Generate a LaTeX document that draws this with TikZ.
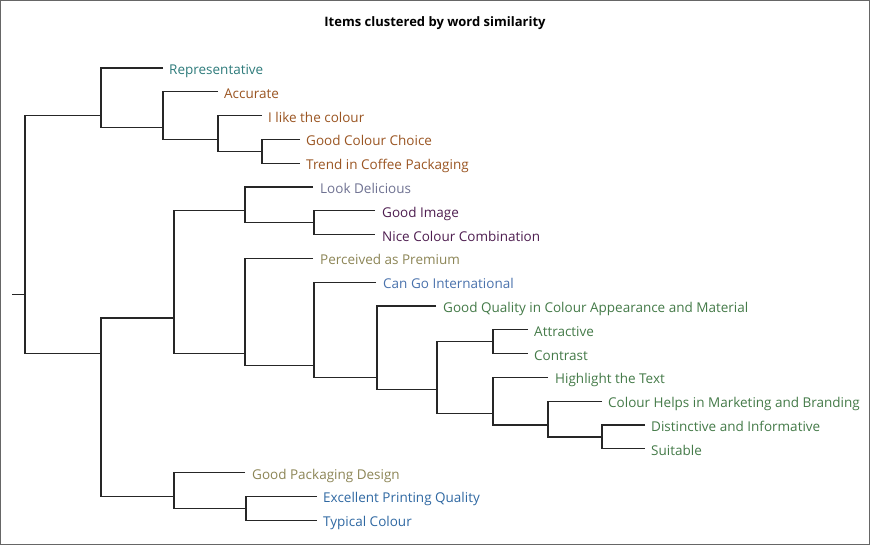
\documentclass[tikz,border=0pt]{standalone}
\usepackage{fontspec}
\setmainfont{Open Sans}
\definecolor{teal1}{HTML}{2E7B7B}
\definecolor{brown1}{HTML}{9A5522}
\definecolor{slate1}{HTML}{6F7292}
\definecolor{plum1}{HTML}{4E1E50}
\definecolor{olive1}{HTML}{8C8556}
\definecolor{blue1}{HTML}{4A72AC}
\definecolor{green1}{HTML}{447A48}
\definecolor{blue2}{HTML}{2F68A2}
\tikzset{
  leaf/.style={anchor=west, inner sep=0pt, text height=16pt, text depth=3pt, font=\fontsize{13.5}{15}\selectfont},
  branch/.style={line width=1.2pt, black!85}
}
\begin{document}
\begin{tikzpicture}[x=1pt,y=-1pt]
    \useasboundingbox (0,0) rectangle (870,545);
    \draw[black!60, line width=1pt] (0.5,0.5) rectangle (869.5,544.5);
    \node[font=\bfseries\fontsize{13}{15}\selectfont] (title) at (435,23) {Items clustered by word similarity};

    % leaves
    \node[leaf, teal1]  (rep)    at (169,68)    {Representative};
    \node[leaf, brown1] (acc)    at (224,91.8)  {Accurate};
    \node[leaf, brown1] (ilike)  at (268,115.6) {I like the colour};
    \node[leaf, brown1] (gcc)    at (306,139.4) {Good Colour Choice};
    \node[leaf, brown1] (trend)  at (306,163.2) {Trend in Coffee Packaging};
    \node[leaf, slate1] (look)   at (320,187)   {Look Delicious};
    \node[leaf, plum1]  (gimg)   at (382,210.8) {Good Image};
    \node[leaf, plum1]  (nice)   at (382,234.6) {Nice Colour Combination};
    \node[leaf, olive1] (prem)   at (320,258.4) {Perceived as Premium};
    \node[leaf, blue1]  (intl)   at (383,282.2) {Can Go International};
    \node[leaf, green1] (gqual)  at (443,306)   {Good Quality in Colour Appearance and Material};
    \node[leaf, green1] (attr)   at (534,329.8) {Attractive};
    \node[leaf, green1] (contr)  at (534,353.6) {Contrast};
    \node[leaf, green1] (hlt)    at (555,377.4) {Highlight the Text};
    \node[leaf, green1] (mkt)    at (608,401.2) {Colour Helps in Marketing and Branding};
    \node[leaf, green1] (dist)   at (651,425)   {Distinctive and Informative};
    \node[leaf, green1] (suit)   at (651,448.8) {Suitable};
    \node[leaf, olive1] (gpd)    at (252,472.6) {Good Packaging Design};
    \node[leaf, blue2]  (print)  at (323,496.4) {Excellent Printing Quality};
    \node[leaf, blue2]  (typ)    at (323,520.2) {Typical Colour};

    % joins
    \coordinate (jA) at (262,151.3);
    \coordinate (jB) at (218,139.4);
    \coordinate (jC) at (163,127.5);
    \coordinate (jD) at (101,115.6);
    \coordinate (jH) at (314,222.7);
    \coordinate (jG) at (245,210.8);
    \coordinate (jP) at (602,436.9);
    \coordinate (jO) at (548,425);
    \coordinate (jN) at (493,413.1);
    \coordinate (jM) at (493,341.7);
    \coordinate (jL) at (437,389.3);
    \coordinate (jK) at (377,377.4);
    \coordinate (jJ) at (314,365.5);
    \coordinate (jI) at (245,353.6);
    \coordinate (jF) at (174,318.1);
    \coordinate (jR) at (246,508.3);
    \coordinate (jQ) at (174,496.4);
    \coordinate (jE) at (101,353.6);
    \coordinate (root) at (25,294.2);
    \coordinate (stub) at (12,294.2);

    \begin{scope}[branch]
    \draw ([xshift=-6pt]gcc.west) -| (jA) |- ([xshift=-6pt]trend.west);
    \draw ([xshift=-6pt]ilike.west) -| (jB) |- (jA);
    \draw ([xshift=-6pt]acc.west) -| (jC) |- (jB);
    \draw ([xshift=-6pt]rep.west) -| (jD) |- (jC);
    \draw ([xshift=-7pt]gimg.west) -| (jH) |- ([xshift=-7pt]nice.west);
    \draw ([xshift=-7pt]look.west) -| (jG) |- (jH);
    \draw ([xshift=-6pt]dist.west) -| (jP) |- ([xshift=-6pt]suit.west);
    \draw ([xshift=-6pt]mkt.west) -| (jO) |- (jP);
    \draw ([xshift=-7pt]hlt.west) -| (jN) |- (jO);
    \draw ([xshift=-6pt]attr.west) -| (jM) |- ([xshift=-6pt]contr.west);
    \draw (jM) -| (jL) |- (jN);
    \draw ([xshift=-7pt]gqual.west) -| (jK) |- (jL);
    \draw ([xshift=-7pt]intl.west) -| (jJ) |- (jK);
    \draw ([xshift=-7pt]prem.west) -| (jI) |- (jJ);
    \draw (jG) -| (jF) |- (jI);
    \draw ([xshift=-6pt]print.west) -| (jR) |- ([xshift=-6pt]typ.west);
    \draw ([xshift=-7pt]gpd.west) -| (jQ) |- (jR);
    \draw (jF) -| (jE) |- (jQ);
    \draw (jD) -| (root) |- (jE);
    \draw (stub) -- (root);
    \end{scope}
\end{tikzpicture}
\end{document}
